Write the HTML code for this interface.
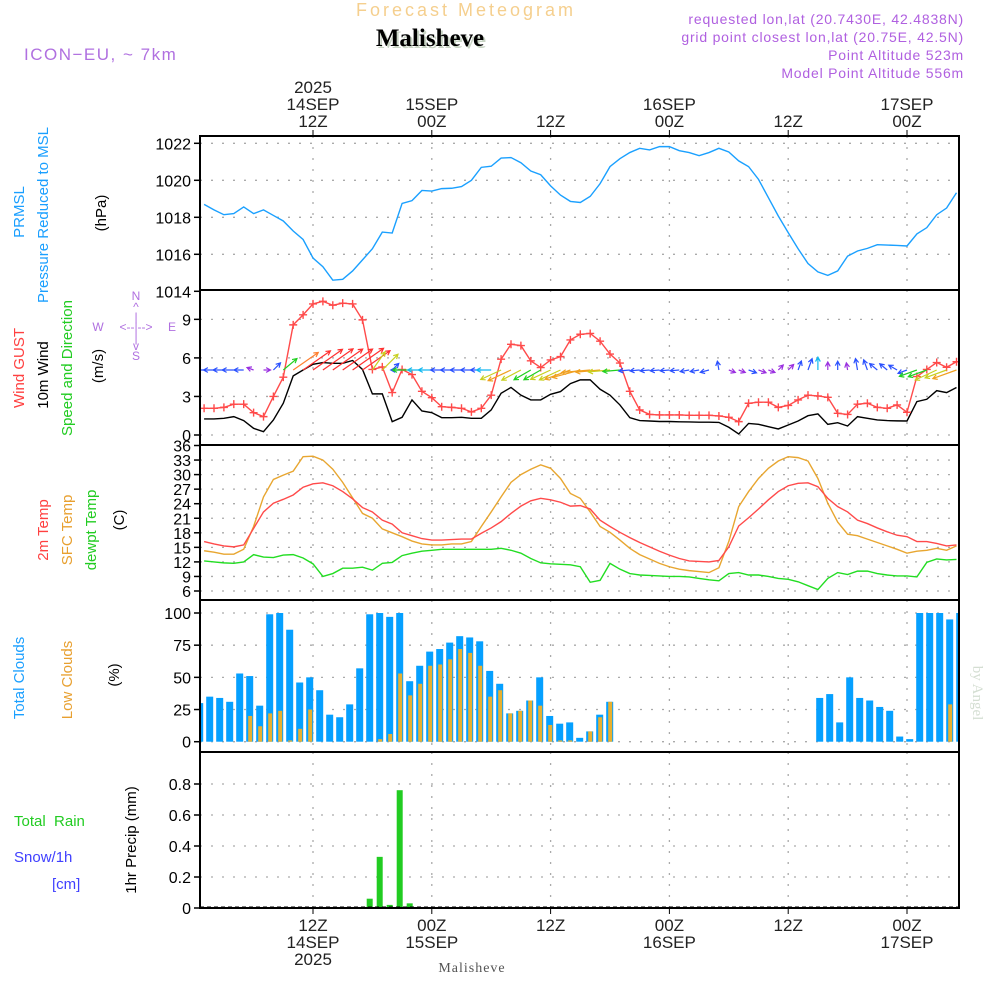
<!DOCTYPE html>
<html><head><meta charset="utf-8"><style>
html,body{margin:0;padding:0;background:#fff;width:1000px;height:1000px;overflow:hidden}
svg{display:block}
text{font-family:"Liberation Sans",sans-serif}
</style></head><body>
<svg id="chart" width="1000" height="1000" viewBox="0 0 1000 1000" xmlns="http://www.w3.org/2000/svg">
<g id="titles">
<text x="466" y="16" text-anchor="middle" font-size="18" fill="#f5cf8e" letter-spacing="3">Forecast Meteogram</text>
<text x="432" y="48" text-anchor="middle" font-size="25" font-weight="bold" fill="#c8d4c4" style="font-family:'Liberation Serif',serif">Malisheve</text>
<text x="430" y="46" text-anchor="middle" font-size="25" font-weight="bold" fill="#000" style="font-family:'Liberation Serif',serif">Malisheve</text>
<text x="24" y="60" font-size="17" fill="#b070e0" letter-spacing="1.5">ICON−EU, ~ 7km</text>
<g fill="#b060e0" font-size="14" text-anchor="end" letter-spacing="0.8">
<text x="964" y="24">requested lon,lat (20.7430E, 42.4838N)</text>
<text x="964" y="42">grid point closest lon,lat (20.75E, 42.5N)</text>
<text x="964" y="60">Point Altitude 523m</text>
<text x="964" y="78">Model Point Altitude 556m</text>
</g>
</g>
<g id="leftlabels" font-size="15">
<text transform="translate(24,212) rotate(-90)" text-anchor="middle" fill="#1a9fff">PRMSL</text>
<text transform="translate(48,215) rotate(-90)" text-anchor="middle" fill="#1a9fff">Pressure Reduced to MSL</text>
<text transform="translate(106,213) rotate(-90)" text-anchor="middle" fill="#000">(hPa)</text>
<text transform="translate(24,368) rotate(-90)" text-anchor="middle" fill="#ff4040">Wind GUST</text>
<text transform="translate(48,375) rotate(-90)" text-anchor="middle" fill="#000">10m Wind</text>
<text transform="translate(72,368) rotate(-90)" text-anchor="middle" fill="#22cc22">Speed and Direction</text>
<text transform="translate(103,366) rotate(-90)" text-anchor="middle" fill="#000">(m/s)</text>
<text transform="translate(48,530) rotate(-90)" text-anchor="middle" fill="#ff4040">2m Temp</text>
<text transform="translate(72,530) rotate(-90)" text-anchor="middle" fill="#e8a030">SFC Temp</text>
<text transform="translate(96,530) rotate(-90)" text-anchor="middle" fill="#22cc22">dewpt Temp</text>
<text transform="translate(124,520) rotate(-90)" text-anchor="middle" fill="#000">(C)</text>
<text transform="translate(24,678) rotate(-90)" text-anchor="middle" fill="#1a9fff">Total Clouds</text>
<text transform="translate(72,680) rotate(-90)" text-anchor="middle" fill="#e8a030">Low Clouds</text>
<text transform="translate(119,675) rotate(-90)" text-anchor="middle" fill="#000">(%)</text>
<text transform="translate(136,840) rotate(-90)" text-anchor="middle" fill="#000">1hr Precip (mm)</text>
<text x="14" y="826" fill="#22cc22" xml:space="preserve">Total  Rain</text>
<text x="14" y="862" fill="#4040ff">Snow/1h</text>
<text x="52" y="889" fill="#4040ff">[cm]</text>
</g>
<g id="compass" fill="#b070e0" font-size="12" text-anchor="middle">
<text x="136" y="300">N</text><text x="136" y="311">^</text><text x="136" y="321">|</text>
<text x="98" y="331">W</text><text x="136" y="331" xml:space="preserve">&lt;--|--&gt;</text><text x="172" y="331">E</text>
<text x="136" y="342">|</text><text x="136" y="350">v</text><text x="136" y="360">S</text>
</g>
<text transform="translate(973,693) rotate(90)" text-anchor="middle" font-size="15" fill="#d4ded2" style="font-family:'Liberation Serif',serif">by Angel</text>
<text x="472" y="972" text-anchor="middle" font-size="14" fill="#555" style="font-family:'Liberation Serif',serif" letter-spacing="1">Malisheve</text>
<g id="plot"></g>
</svg>
<script>
const pressure=[1018.7,1018.4,1018.14,1018.2,1018.56,1018.2,1018.4,1018.1,1017.8,1017.26,1016.8,1015.8,1015.33,1014.6,1014.65,1015.1,1015.7,1016.3,1017.2,1017.15,1018.75,1018.9,1019.45,1019.42,1019.55,1019.57,1019.66,1020.0,1020.7,1020.76,1021.2,1021.23,1020.95,1020.5,1020.3,1019.7,1019.2,1018.86,1018.8,1019.13,1019.82,1020.74,1021.17,1021.5,1021.73,1021.64,1021.82,1021.82,1021.6,1021.5,1021.33,1021.5,1021.73,1021.53,1021.05,1020.74,1020.05,1019.06,1018.07,1017.17,1016.3,1015.5,1015.05,1014.86,1015.1,1015.9,1016.18,1016.32,1016.52,1016.5,1016.48,1016.45,1017.1,1017.44,1018.14,1018.5,1019.33];
const gust=[2.08,2.08,2.15,2.4,2.4,1.74,1.43,3.0,4.5,8.57,9.35,10.2,10.4,10.1,10.26,10.2,8.96,5.1,5.3,3.3,5.1,4.7,3.4,2.9,2.2,2.15,2.08,1.8,2.08,3.1,5.9,7.06,6.96,5.77,5.25,5.84,6.1,7.4,7.84,7.9,7.3,6.3,5.6,3.4,1.95,1.6,1.56,1.56,1.56,1.53,1.53,1.53,1.48,1.38,1.04,2.47,2.55,2.55,2.15,2.3,2.73,3.1,3.04,2.93,1.69,1.6,2.4,2.47,2.15,2.08,2.34,1.77,4.55,5.1,5.64,5.27,5.7];
const wind10=[1.25,1.25,1.3,1.43,1.12,0.52,0.26,1.17,2.47,4.6,5.06,5.5,5.64,5.58,5.58,5.8,5.1,3.2,3.2,1.04,1.38,2.73,1.87,1.74,1.35,1.35,1.38,1.3,1.3,1.95,3.25,3.7,3.1,2.73,2.73,3.17,3.38,4.0,4.29,4.29,3.56,3.1,2.34,1.35,1.12,1.09,1.05,1.05,1.03,1.02,1.0,1.0,0.98,0.6,0.08,0.9,0.83,0.65,0.47,0.78,1.09,1.5,1.64,0.83,0.96,0.7,1.43,1.3,1.17,1.12,1.1,1.09,2.6,2.78,3.45,3.3,3.7];
const windDir=[180,180,180,180,180,160,0,45,40,35,35,35,35,35,35,35,35,55,45,45,180,180,180,180,180,180,180,180,180,180,205,205,208,210,210,205,205,200,195,185,185,185,185,185,185,185,185,185,185,190,190,195,100,340,340,340,340,340,45,45,70,70,90,90,90,100,100,110,140,140,150,200,200,200,205,200,200];
const temp2m=[16.2,15.7,15.3,15.1,15.5,18.9,22.3,24.1,24.9,25.8,27.4,28.1,28.3,27.7,26.5,25.0,23.2,22.3,20.6,19.8,18.0,17.4,16.8,16.5,16.5,16.6,16.7,16.7,17.9,19.0,20.3,22.0,23.5,24.6,25.1,24.8,24.3,23.5,23.6,22.9,20.6,19.3,18.1,17.0,16.0,15.1,14.2,13.4,12.7,12.2,12.1,12.0,12.3,15.1,19.4,21.1,22.9,24.8,26.5,27.7,28.2,28.3,27.5,25.1,23.4,22.3,20.6,19.9,19.0,18.2,17.5,17.2,16.2,16.2,15.8,15.3,15.5];
const sfcTemp=[14.3,14.0,13.6,13.6,14.6,19.3,25.4,29.0,29.9,30.7,33.7,33.8,33.0,31.1,28.4,25.2,22.0,21.0,18.8,18.0,17.2,16.3,15.7,15.5,15.5,15.7,15.7,16.2,19.3,22.3,25.4,28.4,30.0,31.1,32.0,31.3,29.2,26.1,25.1,22.3,19.3,18.1,16.5,14.8,13.5,12.6,11.7,11.0,10.5,10.2,10.0,9.8,10.8,16.2,23.4,26.5,29.2,31.3,32.8,33.7,33.5,32.8,29.2,24.1,20.2,17.7,17.4,16.7,16.0,15.3,14.6,13.8,14.2,14.4,14.8,14.4,15.3];
const dewpt=[12.2,12.0,11.8,11.7,12.0,13.5,13.0,12.9,13.4,13.5,12.8,11.6,9.0,9.6,10.7,10.7,10.9,10.3,11.7,11.9,13.3,13.8,14.2,14.4,14.6,14.6,14.6,14.6,14.6,14.6,14.8,14.4,13.8,12.7,11.8,11.6,11.5,11.4,11.0,7.8,8.2,11.7,10.5,9.6,9.3,9.2,9.1,9.0,9.0,8.9,8.6,8.3,8.1,9.6,9.8,9.3,9.3,9.0,8.6,8.4,7.9,7.1,6.3,8.6,9.8,9.4,10.1,10.1,9.6,9.3,9.1,9.1,8.9,11.9,12.6,12.4,12.5];
const totalClouds=[30,35,34,31,53,51,28,99,100,87,46,50,40,21,19,29,57,99,100,97,100,47,59,70,72,77,82,81,78,55,45,22,24,32,50,20,14,15,3,8,21,31,0,0,0,0,0,0,0,0,0,0,0,0,0,0,0,0,0,0,0,0,34,37,15,50,34,32,27,24,4,2,100,100,100,95,100];
const lowClouds=[0,0,0,0,0,20,12,22,24,1,10,25,0,0,0,0,0,0,2,6,53,36,45,59,60,64,72,69,59,35,40,22,24,32,28,13,1,1,0,8,19,31,0,0,0,0,0,0,0,0,0,0,0,0,0,0,0,0,0,0,0,0,0,0,0,0,0,0,0,0,0,0,0,0,0,29,65];
const precip=[0,0,0,0,0,0,0,0,0,0,0,0,0,0,0,0,0,0.06,0.33,0.02,0.76,0.03,0,0,0,0,0,0,0,0,0,0,0,0,0,0,0,0,0,0,0,0,0,0,0,0,0,0,0,0,0,0,0,0,0,0,0,0,0,0,0,0,0,0,0,0,0,0,0,0,0,0,0,0,0,0,0];
const pressTicks=[1014,1016,1018,1020,1022];
const windTicks=[0,3,6,9];
const tempTicks=[6,9,12,15,18,21,24,27,30,33,36];
const cloudTicks=[0,25,50,75,100];
const precipTicks=["0","0.2","0.4","0.6","0.8"];
const timeTicks=[12,24,36,48,60,72];
const topTimeLabels=[["2025","14SEP","12Z"],["","15SEP","00Z"],["","","12Z"],["","16SEP","00Z"],["","","12Z"],["","17SEP","00Z"]];
const botTimeLabels=[["12Z","14SEP","2025"],["00Z","15SEP",""],["12Z","",""],["00Z","16SEP",""],["12Z","",""],["00Z","17SEP",""]];

const NS='http://www.w3.org/2000/svg';
const plot=document.getElementById('plot');
function mk(tag,attrs,parent){const e=document.createElementNS(NS,tag);for(const k in attrs)e.setAttribute(k,attrs[k]);(parent||plot).appendChild(e);return e;}
const L=200,R=959;
const xh=h=>313+(h-12)*9.9;
const xi=i=>xh(i+1);
const xb=i=>199.7+i*10.0;
const yP=v=>143.3+(1022-v)*18.5;
const yW=v=>435-v*12.85;
const yT=v=>591-(v-6)*4.85;
const yC=v=>741.7-v*1.287;
const yR=v=>908-v*155;
const panels=[{t:136,b:290,ticks:pressTicks,y:yP,lab:v=>v,name:'pressure'},{t:290,b:445,ticks:windTicks,y:yW,lab:v=>v,name:'wind'},{t:445,b:600,ticks:tempTicks,y:yT,lab:v=>v,name:'temp'},{t:600,b:752,ticks:cloudTicks,y:yC,lab:v=>v,name:'clouds'},{t:752,b:908,ticks:precipTicks.map(Number),y:yR,lab:(v,i)=>precipTicks[i],name:'precip'}];
const clipDefs=mk('defs',{});
panels.forEach((p,pi)=>{
  const g=mk('g',{});
  
  
  const cp=mk('clipPath',{id:'cp'+pi},clipDefs);mk('rect',{x:L,y:p.t,width:R-L,height:p.b-p.t},cp);
  p.ticks.forEach((v,i)=>{
    const y=p.y(v);
    if(y>p.t+2&&y<p.b-2) mk('line',{x1:L,x2:R,y1:y,y2:y,stroke:'#aaa','stroke-width':1.3,'stroke-dasharray':'2 9'},g);
    mk('line',{x1:L-6,x2:L,y1:y,y2:y,stroke:'#000','stroke-width':1.5},g);
    const t=mk('text',{x:L-9,y:y+6,'text-anchor':'end','font-size':16,fill:'#000'},g);
    
    
    t.textContent=p.lab(v,i);
  });
  timeTicks.forEach(h=>{mk('line',{x1:xh(h),x2:xh(h),y1:p.t,y2:p.b,stroke:'#aaa','stroke-width':1.3,'stroke-dasharray':'2 9'},g);});
});
function line(arr,yf,color,name,cp){
  const pl=mk('polyline',{points:arr.map((v,i)=>xi(i)+','+yf(v)).join(' '),fill:'none',stroke:color,'stroke-width':1.4,'clip-path':'url(#'+cp+')'});
  
  
  return pl;
}
line(pressure,yP,'#1aa0ff','pressure-line','cp0');
line(wind10,yW,'#000','wind-10m-line','cp1');
line(gust,yW,'#ff4a4a','wind-gust-line','cp1');
gust.forEach((v,i)=>{
  const x=xi(i),y=yW(v);
  const m=mk('path',{d:`M${x-4},${y}H${x+4}M${x},${y-4}V${y+4}`,stroke:'#ff4a4a','stroke-width':1.4,'clip-path':'url(#cp1)'});
  
  
});
function wcol(s){return s<0.9?'#9a30e0':s<1.6?'#2a50ff':s<2.3?'#10b8f0':s<2.9?'#20d020':s<3.5?'#c8d020':s<4.4?'#f0a020':s<5?'#ff8030':'#ff3030';}
windDir.forEach((d,i)=>{
  const s=wind10[i];const len=Math.min(38,Math.max(7,3+s*6));const a=d*Math.PI/180;
  const x1=xi(i),y1=370;const x2=x1+Math.cos(a)*len,y2=y1-Math.sin(a)*len;
  const hx1=x2-Math.cos(a-0.5)*5,hy1=y2+Math.sin(a-0.5)*5,hx2=x2-Math.cos(a+0.5)*5,hy2=y2+Math.sin(a+0.5)*5;
  const ar=mk('path',{d:`M${x1},${y1}L${x2},${y2}M${hx1},${hy1}L${x2},${y2}L${hx2},${hy2}`,stroke:wcol(s),'stroke-width':1.2,fill:'none','clip-path':'url(#cp1)'});
  
  
});
line(sfcTemp,yT,'#e8a630','sfc-temp-line','cp2');
line(temp2m,yT,'#ff4a4a','temp-2m-line','cp2');
line(dewpt,yT,'#22dd22','dewpt-line','cp2');
totalClouds.forEach((v,i)=>{
  if(v<=0)return;
  const b=mk('rect',{x:xb(i)-3.5,y:yC(v),width:7,height:yC(0)-yC(v),fill:'#05a0ff','clip-path':'url(#cp3)'});
  
  
});
lowClouds.forEach((v,i)=>{
  if(v<=0)return;
  const b=mk('rect',{x:xb(i)-1.5,y:yC(v),width:4,height:yC(0)-yC(v),fill:'#e8b030','clip-path':'url(#cp3)'});
  
  
});
precip.forEach((v,i)=>{
  if(v<=0)return;
  const b=mk('rect',{x:xb(i)-3,y:yR(v),width:6,height:yR(0)-yR(v),fill:'#22cc22','clip-path':'url(#cp4)'});
  
  
});
mk('line',{x1:L,x2:R,y1:907,y2:907,stroke:'#000','stroke-width':1,'stroke-dasharray':'4 3'});
const fr=mk('rect',{x:L,y:136,width:R-L,height:772,fill:'none',stroke:'#000','stroke-width':2});


[290,445,600,752].forEach(y=>mk('line',{x1:L,x2:R,y1:y,y2:y,stroke:'#000','stroke-width':2}));
timeTicks.forEach((h,k)=>{
  const x=xh(h);
  mk('line',{x1:x,x2:x,y1:130,y2:136,stroke:'#000','stroke-width':1});
  mk('line',{x1:x,x2:x,y1:908,y2:914,stroke:'#000','stroke-width':1});
  topTimeLabels[k].forEach((s,j)=>{if(!s)return;const t=mk('text',{x:x,y:93+j*17,'text-anchor':'middle','font-size':17,fill:'#222'});
    
    
    t.textContent=s;});
  botTimeLabels[k].forEach((s,j)=>{if(!s)return;const t=mk('text',{x:x,y:931+j*17,'text-anchor':'middle','font-size':17,fill:'#222'});
    
    
    t.textContent=s;});
});
</script>
</body></html>
